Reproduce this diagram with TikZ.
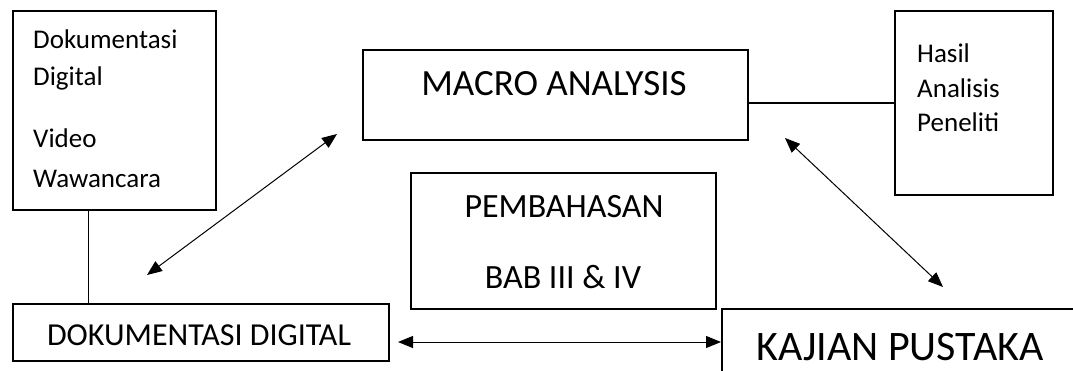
\documentclass[tikz,border=0pt]{standalone}
\usepackage{fontspec}
\setmainfont{Carlito}
\usetikzlibrary{positioning, arrows.meta}
\definecolor{ink}{HTML}{000000}
\tikzset{
  frame/.style   = {rectangle, draw=ink, line width=2pt, inner sep=0pt, anchor=north west},
  small/.style   = {inner sep=0pt, font=\fontsize{27}{32}\selectfont, anchor=base west},
  big/.style     = {inner sep=0pt, font=\fontsize{34}{40}\selectfont, anchor=base},
  link/.style    = {draw=ink, line width=1pt},
  link2/.style   = {draw=ink, line width=2pt},
  dar/.style     = {{Triangle[length=15pt,width=12pt]}-{Triangle[length=15pt,width=12pt]}, draw=ink, line width=1pt},
}
\begin{document}
\begin{tikzpicture}[x=1pt, y=-1pt]
  \useasboundingbox (0,0) rectangle (1073,370);
  \clip (0,0) rectangle (1073,370);

  % boxes
  \node[frame, minimum width=203pt, minimum height=199pt] (sumber) at (12,10) {};
  \node[frame, minimum width=376pt, minimum height=57pt]  (dok)    at (12,303) {};
  \node[frame, minimum width=385pt, minimum height=90pt]  (macro)  at (362,49) {};
  \node[frame, minimum width=158pt, minimum height=184pt] (hasil)  at (894,10) {};
  \node[frame, minimum width=305pt, minimum height=136pt] (bahas)  at (410,172) {};
  \node[frame, minimum width=400pt, minimum height=120pt] (kajian) at (721,308) {};

  % texts
  \node[small] (s1) at (33,48)  {Dokumentasi};
  \node[small] (s2) at (33,85)  {Digital};
  \node[small] (s3) at (33,147) {Video};
  \node[small] (s4) at (33,187) {Wawancara};
  \node[small] (h1) at (917,62)  {Hasil};
  \node[small] (h2) at (917,97)  {Analisis};
  \node[small] (h3) at (917,131) {Peneliti};
  \node[big, font=\fontsize{32}{38}\selectfont] (tdok) at (199,345) {DOKUMENTASI DIGITAL};
  \node[big, font=\fontsize{37}{44}\selectfont] (tmacro) at (554,95) {MACRO ANALYSIS};
  \node[big] (tb1)    at (564,217) {PEMBAHASAN};
  \node[big] (tb2)    at (563,288) {BAB III \& IV};
  \node[big, font=\fontsize{42}{48}\selectfont] (tkajian) at (900,360) {KAJIAN PUSTAKA};

  % connectors
  \draw[link] ([xshift=76pt]sumber.south west) -- ([xshift=76pt]dok.north west);
  \draw[link2] (hasil.west) -- (hasil.west -| macro.east);

  \coordinate (a1) at (147,275);
  \coordinate (a2) at (337,134);
  \coordinate (b1) at (785,138);
  \coordinate (b2) at (943,287);
  \coordinate (c1) at (398,342);
  \draw[dar] (a1) -- (a2);
  \draw[dar] (b1) -- (b2);
  \draw[dar] (c1) -- (c1 -| kajian.west);
\end{tikzpicture}
\end{document}
